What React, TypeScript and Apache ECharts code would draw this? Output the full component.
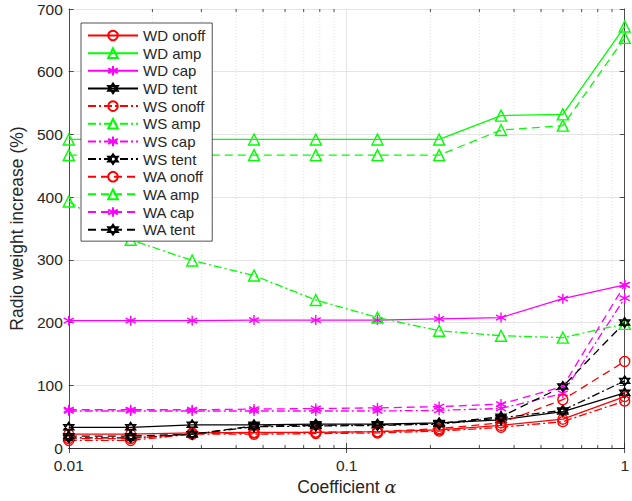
import React, { useEffect, useRef } from "react";
import * as echarts from "echarts";

const alphas = [0.01, 0.0167, 0.0278, 0.0464, 0.0774, 0.129, 0.215, 0.359, 0.599, 1];
const minorTickValues = [0.02, 0.03, 0.04, 0.05, 0.06, 0.07, 0.08, 0.09, 0.2, 0.3, 0.4, 0.5, 0.6, 0.7, 0.8, 0.9];

const wdOnoff = [22, 22, 24, 25, 25, 26, 29, 36, 46, 82];
const wdAmp = [492, 492, 492, 492, 492, 492, 492, 530, 532, 672];
const wdCap = [203, 203, 203, 204, 204, 204, 206, 208, 238, 260];
const wdTent = [33, 33, 37, 37, 38, 38, 40, 45, 58, 88];
const wsOnoff = [12, 12, 22, 22, 23, 24, 27, 33, 42, 75];
const wsAmp = [393, 332, 299, 275, 236, 208, 187, 179, 176, 198];
const wsCap = [59, 59, 59, 59, 59, 59, 60, 63, 87, 239];
const wsTent = [16, 16, 22, 34, 35, 36, 38, 48, 60, 107];
const waOnoff = [15, 15, 23, 24, 25, 26, 31, 40, 77, 138];
const waAmp = [467, 467, 467, 467, 467, 467, 467, 507, 514, 654];
const waCap = [61, 61, 61, 62, 63, 64, 66, 70, 98, 260];
const waTent = [19, 19, 22, 35, 36, 37, 39, 50, 98, 200];

const seriesNames = [
  "WD onoff", "WD amp", "WD cap", "WD tent",
  "WS onoff", "WS amp", "WS cap", "WS tent",
  "WA onoff", "WA amp", "WA cap", "WA tent",
];
const seriesValues = [
  wdOnoff, wdAmp, wdCap, wdTent,
  wsOnoff, wsAmp, wsCap, wsTent,
  waOnoff, waAmp, waCap, waTent,
];

const RED = "#ff0000";
const GREEN = "#00ff00";
const MAGENTA = "#ff00ff";
const BLACK = "#000000";
const kindColors = [RED, GREEN, MAGENTA, BLACK];

const ASTERISK = "path://M5,0 L5,10 M0.67,2.5 L9.33,7.5 M0.67,7.5 L9.33,2.5";
const HEXAGRAM = "path://M5,0 L9.33,7.5 L0.67,7.5 Z M5,10 L9.33,2.5 L0.67,2.5 Z";
const kindSymbols = ["circle", "triangle", ASTERISK, HEXAGRAM];
const kindSizes = [10, 11, 10, 10];

const groupDash: any[] = ["solid", [8, 3, 2, 3], [8, 5]];

const FONT = "Liberation Sans, Arial, Helvetica, sans-serif";
const TEXT = "#262626";

export default function App() {
  const ref = useRef<HTMLDivElement>(null);

  useEffect(() => {
    if (!ref.current) return;
    const chart = echarts.init(ref.current, undefined, { renderer: "svg" });

    const lineSeries = seriesNames.map((name, i) => {
      const kind = i % 4;
      const group = Math.floor(i / 4);
      const c = kindColors[kind];
      return {
        name,
        type: "line",
        data: alphas.map((a, j) => [a, seriesValues[i][j]]),
        symbol: kindSymbols[kind],
        symbolSize: kindSizes[kind],
        showAllSymbol: true,
        color: c,
        lineStyle: { color: c, width: 1.3, type: groupDash[group] },
        itemStyle: { color: "rgba(0,0,0,0)", borderColor: c, borderWidth: 1.4 },
        emphasis: { disabled: true },
        z: 3,
      };
    });

    const minorSeries = {
      type: "custom",
      name: "minor",
      silent: true,
      z: 1,
      data: minorTickValues.map((v) => [v, 0]),
      encode: { x: 0, y: 1 },
      renderItem: (params: any, api: any) => {
        const x = api.value(0);
        const top = api.coord([x, 700]);
        const bot = api.coord([x, 0]);
        return {
          type: "group",
          children: [
            {
              type: "line",
              shape: { x1: top[0], y1: top[1], x2: bot[0], y2: bot[1] },
              style: { stroke: "#d8d8d8", lineWidth: 0.8, lineDash: [1, 2] },
            },
            {
              type: "line",
              shape: { x1: bot[0], y1: bot[1], x2: bot[0], y2: bot[1] - 3 },
              style: { stroke: TEXT, lineWidth: 0.8 },
            },
            {
              type: "line",
              shape: { x1: top[0], y1: top[1], x2: top[0], y2: top[1] + 3 },
              style: { stroke: TEXT, lineWidth: 0.8 },
            },
          ],
        };
      },
    };

    const axisLine = { show: true, lineStyle: { color: TEXT, width: 0.8 } };
    const tick = { show: true, inside: true, length: 5, lineStyle: { color: TEXT, width: 0.8 } };

    chart.setOption({
      animation: false,
      textStyle: { fontFamily: FONT },
      grid: { left: 67, right: 5, top: 9, bottom: 53, containLabel: false },
      legend: {
        data: seriesNames,
        orient: "vertical",
        left: 81,
        top: 23,
        itemWidth: 50,
        itemHeight: 12,
        itemGap: 2.65,
        padding: [5, 7, 4, 6],
        backgroundColor: "#ffffff",
        borderColor: TEXT,
        borderWidth: 0.8,
        textStyle: { fontFamily: FONT, fontSize: 15, color: TEXT },
        selectedMode: false,
      },
      xAxis: [
        {
          type: "log",
          logBase: 10,
          min: 0.01,
          max: 1,
          position: "bottom",
          axisLine,
          axisTick: tick,
          axisLabel: { fontSize: 15.5, color: TEXT, fontFamily: FONT, margin: 9 },
          splitLine: { show: true, lineStyle: { color: "#dedede", width: 0.8 } },
          name: "Coefficient {a|α}",
          nameLocation: "middle",
          nameGap: 30,
          nameTextStyle: {
            fontSize: 17.5,
            color: TEXT,
            fontFamily: FONT,
            rich: { a: { fontSize: 17.5, fontStyle: "italic", fontFamily: "DejaVu Serif, serif", color: TEXT } },
          },
        },
        {
          type: "log",
          logBase: 10,
          min: 0.01,
          max: 1,
          position: "top",
          axisLine,
          axisTick: tick,
          axisLabel: { show: false },
          splitLine: { show: false },
        },
      ],
      yAxis: [
        {
          type: "value",
          min: 0,
          max: 700,
          interval: 100,
          position: "left",
          axisLine,
          axisTick: tick,
          axisLabel: { fontSize: 15.5, color: TEXT, fontFamily: FONT, margin: 6 },
          splitLine: { show: true, lineStyle: { color: "#dedede", width: 0.8 } },
          name: "Radio weight increase (%)",
          nameLocation: "middle",
          nameGap: 40,
          nameTextStyle: { fontSize: 17.5, color: TEXT, fontFamily: FONT },
        },
        {
          type: "value",
          min: 0,
          max: 700,
          interval: 100,
          position: "right",
          axisLine,
          axisTick: tick,
          axisLabel: { show: false },
          splitLine: { show: false },
        },
      ],
      series: [minorSeries, ...lineSeries],
    });

    return () => chart.dispose();
  }, []);

  return (
    <div
      ref={ref}
      style={{ position: "fixed", left: 0, top: 0, width: 632, height: 501, background: "#fff" }}
    />
  );
}
